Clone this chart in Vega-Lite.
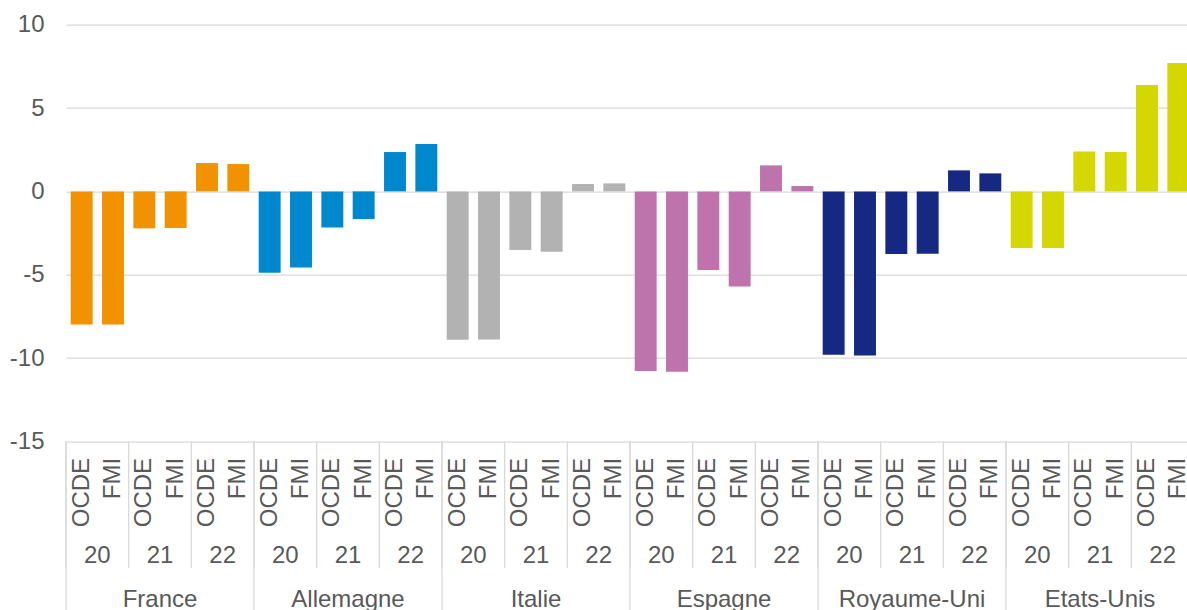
{
  "$schema": "https://vega.github.io/schema/vega-lite/v6.json",
  "width": 1128,
  "height": 416.7,
  "autosize": "none",
  "padding": {"left": 66, "top": 24.7, "right": 0, "bottom": 168.6},
  "background": "white",
  "config": {"view": {"stroke": null}, "font": "Liberation Sans"},
  "data": {"values": [
    {"id": "France|20|OCDE", "country": "France", "year": "20", "source": "OCDE", "value": -7.98},
    {"id": "France|20|FMI", "country": "France", "year": "20", "source": "FMI", "value": -7.98},
    {"id": "France|21|OCDE", "country": "France", "year": "21", "source": "OCDE", "value": -2.22},
    {"id": "France|21|FMI", "country": "France", "year": "21", "source": "FMI", "value": -2.2},
    {"id": "France|22|OCDE", "country": "France", "year": "22", "source": "OCDE", "value": 1.7},
    {"id": "France|22|FMI", "country": "France", "year": "22", "source": "FMI", "value": 1.64},
    {"id": "Allemagne|20|OCDE", "country": "Allemagne", "year": "20", "source": "OCDE", "value": -4.88},
    {"id": "Allemagne|20|FMI", "country": "Allemagne", "year": "20", "source": "FMI", "value": -4.56},
    {"id": "Allemagne|21|OCDE", "country": "Allemagne", "year": "21", "source": "OCDE", "value": -2.16},
    {"id": "Allemagne|21|FMI", "country": "Allemagne", "year": "21", "source": "FMI", "value": -1.66},
    {"id": "Allemagne|22|OCDE", "country": "Allemagne", "year": "22", "source": "OCDE", "value": 2.36},
    {"id": "Allemagne|22|FMI", "country": "Allemagne", "year": "22", "source": "FMI", "value": 2.84},
    {"id": "Italie|20|OCDE", "country": "Italie", "year": "20", "source": "OCDE", "value": -8.9},
    {"id": "Italie|20|FMI", "country": "Italie", "year": "20", "source": "FMI", "value": -8.88},
    {"id": "Italie|21|OCDE", "country": "Italie", "year": "21", "source": "OCDE", "value": -3.52},
    {"id": "Italie|21|FMI", "country": "Italie", "year": "21", "source": "FMI", "value": -3.62},
    {"id": "Italie|22|OCDE", "country": "Italie", "year": "22", "source": "OCDE", "value": 0.44},
    {"id": "Italie|22|FMI", "country": "Italie", "year": "22", "source": "FMI", "value": 0.48},
    {"id": "Espagne|20|OCDE", "country": "Espagne", "year": "20", "source": "OCDE", "value": -10.78},
    {"id": "Espagne|20|FMI", "country": "Espagne", "year": "20", "source": "FMI", "value": -10.82},
    {"id": "Espagne|21|OCDE", "country": "Espagne", "year": "21", "source": "OCDE", "value": -4.72},
    {"id": "Espagne|21|FMI", "country": "Espagne", "year": "21", "source": "FMI", "value": -5.7},
    {"id": "Espagne|22|OCDE", "country": "Espagne", "year": "22", "source": "OCDE", "value": 1.56},
    {"id": "Espagne|22|FMI", "country": "Espagne", "year": "22", "source": "FMI", "value": 0.32},
    {"id": "Royaume-Uni|20|OCDE", "country": "Royaume-Uni", "year": "20", "source": "OCDE", "value": -9.8},
    {"id": "Royaume-Uni|20|FMI", "country": "Royaume-Uni", "year": "20", "source": "FMI", "value": -9.84},
    {"id": "Royaume-Uni|21|OCDE", "country": "Royaume-Uni", "year": "21", "source": "OCDE", "value": -3.76},
    {"id": "Royaume-Uni|21|FMI", "country": "Royaume-Uni", "year": "21", "source": "FMI", "value": -3.74},
    {"id": "Royaume-Uni|22|OCDE", "country": "Royaume-Uni", "year": "22", "source": "OCDE", "value": 1.26},
    {"id": "Royaume-Uni|22|FMI", "country": "Royaume-Uni", "year": "22", "source": "FMI", "value": 1.08},
    {"id": "Etats-Unis|20|OCDE", "country": "Etats-Unis", "year": "20", "source": "OCDE", "value": -3.4},
    {"id": "Etats-Unis|20|FMI", "country": "Etats-Unis", "year": "20", "source": "FMI", "value": -3.4},
    {"id": "Etats-Unis|21|OCDE", "country": "Etats-Unis", "year": "21", "source": "OCDE", "value": 2.4},
    {"id": "Etats-Unis|21|FMI", "country": "Etats-Unis", "year": "21", "source": "FMI", "value": 2.36},
    {"id": "Etats-Unis|22|OCDE", "country": "Etats-Unis", "year": "22", "source": "OCDE", "value": 6.38},
    {"id": "Etats-Unis|22|FMI", "country": "Etats-Unis", "year": "22", "source": "FMI", "value": 7.7}
  ]},
  "layer": [
    {
      "mark": {"type": "bar", "width": {"band": 0.7}, "clip": false},
      "encoding": {
        "x": {
          "field": "id", "type": "nominal", "sort": null,
          "scale": {"paddingInner": 0, "paddingOuter": 0},
          "axis": {
            "labelExpr": "split(datum.label, '|')[2]",
            "labelAngle": 270, "labelAlign": "right", "labelBaseline": "middle",
            "labelPadding": 16, "ticks": false, "domain": false, "grid": false,
            "labelFontSize": 24, "labelColor": "#595959", "labelOverlap": false,
            "labelFont": "Liberation Sans", "title": null
          }
        },
        "y": {
          "field": "value", "type": "quantitative",
          "scale": {"domain": [-15, 10], "nice": false},
          "axis": {
            "values": [-15, -10, -5, 0, 5, 10], "ticks": false, "domain": false,
            "labelExpr": "toString(datum.value)",
            "labelPadding": 22, "labelFontSize": 24, "labelColor": "#595959",
            "labelFont": "Liberation Sans",
            "gridColor": "#d9d9d9", "gridWidth": 1.3, "title": null
          }
        },
        "color": {
          "field": "country", "type": "nominal",
          "scale": {
            "domain": ["France", "Allemagne", "Italie", "Espagne", "Royaume-Uni", "Etats-Unis"],
            "range": ["#F39200", "#0088CE", "#B2B2B2", "#BE73AD", "#152982", "#D4D700"]
          },
          "legend": null
        }
      }
    },
    {
      "transform": [{"filter": "datum.source == 'OCDE'"}],
      "mark": {"type": "rule", "color": "#d9d9d9", "strokeWidth": 1.3, "clip": false},
      "encoding": {
        "x": {"field": "id", "type": "nominal", "sort": null, "bandPosition": 0},
        "y": {"datum": -15, "type": "quantitative"},
        "y2": {"datum": -22.6}
      }
    },
    {
      "transform": [{"filter": "datum.source == 'OCDE' && datum.year == '20'"}],
      "mark": {"type": "rule", "color": "#d9d9d9", "strokeWidth": 1.3, "clip": false},
      "encoding": {
        "x": {"field": "id", "type": "nominal", "sort": null, "bandPosition": 0},
        "y": {"datum": -15, "type": "quantitative"},
        "y2": {"datum": -27}
      }
    },
    {
      "transform": [{"filter": "datum.source == 'OCDE'"}],
      "mark": {"type": "text", "align": "center", "baseline": "alphabetic", "fontSize": 24, "color": "#595959", "font": "Liberation Sans", "clip": false},
      "encoding": {
        "x": {"field": "id", "type": "nominal", "sort": null, "bandPosition": 1},
        "y": {"datum": -22.3, "type": "quantitative"},
        "text": {"field": "year"}
      }
    },
    {
      "transform": [{"filter": "datum.source == 'FMI' && datum.year == '21'"}],
      "mark": {"type": "text", "align": "center", "baseline": "alphabetic", "fontSize": 24, "color": "#595959", "font": "Liberation Sans", "clip": false},
      "encoding": {
        "x": {"field": "id", "type": "nominal", "sort": null, "bandPosition": 0},
        "y": {"datum": -24.95, "type": "quantitative"},
        "text": {"field": "country"}
      }
    }
  ]
}
